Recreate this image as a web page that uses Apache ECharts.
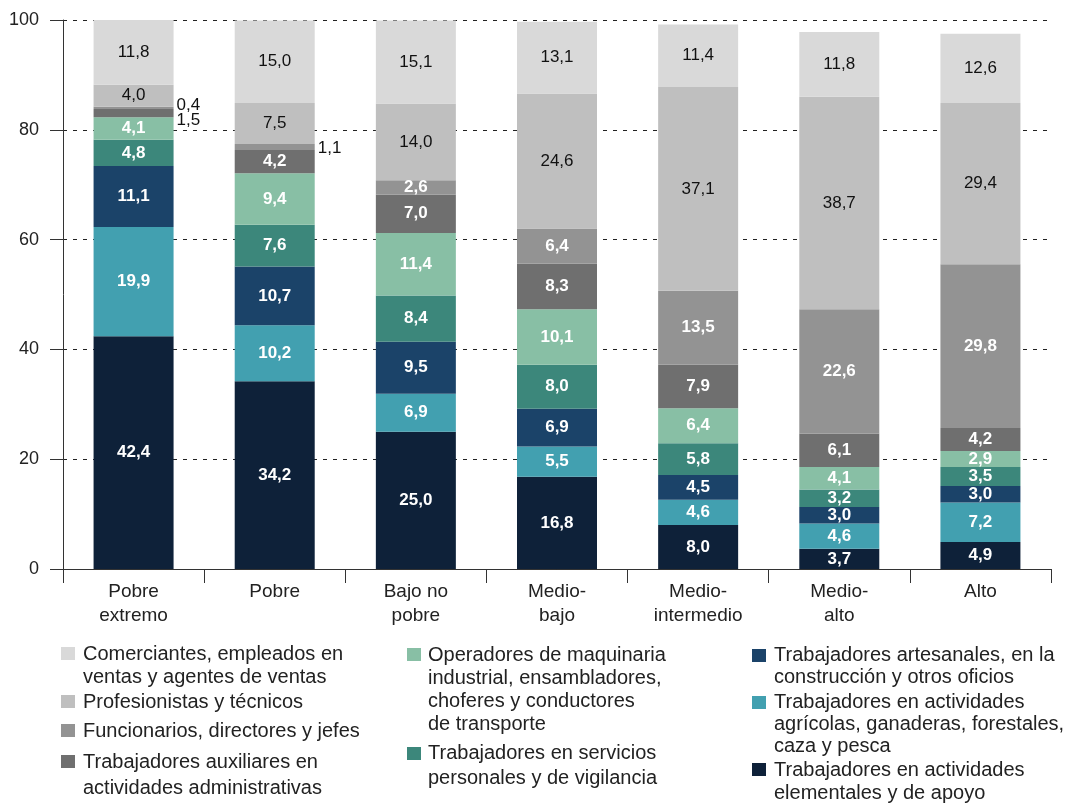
<!DOCTYPE html>
<html><head><meta charset="utf-8">
<script src="https://cdn.jsdelivr.net/npm/echarts@6/dist/echarts.min.js"></script>
<style>html,body{margin:0;padding:0;background:#fff}#c{width:1068px;height:803px}</style>
</head><body><div id="c"></div>
<script>
// ---- DATA ----
var categories = ['Pobre\nextremo', 'Pobre', 'Bajo no\npobre', 'Medio-\nbajo', 'Medio-\nintermedio', 'Medio-\nalto', 'Alto'];
var yTicks = [0, 20, 40, 60, 80, 100];
// series from bottom of stack to top
var seriesNames = [
  'Trabajadores en actividades\nelementales y de apoyo',
  'Trabajadores en actividades\nagrícolas, ganaderas, forestales,\ncaza y pesca',
  'Trabajadores artesanales, en la\nconstrucción y otros oficios',
  'Trabajadores en servicios\npersonales y de vigilancia',
  'Operadores de maquinaria\nindustrial, ensambladores,\nchoferes y conductores\nde transporte',
  'Trabajadores auxiliares en\nactividades administrativas',
  'Funcionarios, directores y jefes',
  'Profesionistas y técnicos',
  'Comerciantes, empleados en\nventas y agentes de ventas'
];
var elementales   = [42.4, 34.2, 25.0, 16.8, 8.0, 3.7, 4.9];
var agricolas     = [19.9, 10.2, 6.9, 5.5, 4.6, 4.6, 7.2];
var artesanales   = [11.1, 10.7, 9.5, 6.9, 4.5, 3.0, 3.0];
var servicios     = [4.8, 7.6, 8.4, 8.0, 5.8, 3.2, 3.5];
var operadores    = [4.1, 9.4, 11.4, 10.1, 6.4, 4.1, 2.9];
var auxiliares    = [1.5, 4.2, 7.0, 8.3, 7.9, 6.1, 4.2];
var funcionarios  = [0.4, 1.1, 2.6, 6.4, 13.5, 22.6, 29.8];
var profesionistas= [4.0, 7.5, 14.0, 24.6, 37.1, 38.7, 29.4];
var comerciantes  = [11.8, 15.0, 15.1, 13.1, 11.4, 11.8, 12.6];
var seriesValues = [elementales, agricolas, artesanales, servicios, operadores, auxiliares, funcionarios, profesionistas, comerciantes];

// ---- STYLE ----
var colors = ['#0e2139', '#42a0b0', '#1b4369', '#3c877b', '#88bfa5', '#6f6f6f', '#939393', '#bfbfbf', '#d9d9d9'];
var darkLabel = [true, true, true, true, true, true, true, false, false];
// vertical offsets for small outside labels, key "series-category"
var outsideOffsets = {'6-0': -3, '5-0': 7, '6-1': 1};

function fmt(v) { return v.toFixed(1).replace('.', ','); }

var series = seriesValues.map(function (vals, si) {
  return {
    name: seriesNames[si],
    type: 'bar',
    stack: 'total',
    barWidth: 80,
    itemStyle: { color: colors[si] },
    label: {
      show: true,
      position: 'inside',
      formatter: function (p) { return fmt(p.value); },
      color: darkLabel[si] ? '#ffffff' : '#111111',
      fontWeight: darkLabel[si] ? 'bold' : 'normal',
      fontSize: 17,
      fontFamily: 'Liberation Sans, Arial, sans-serif'
    },
    data: vals.map(function (v, ci) {
      if (v < 2) {
        var dy = outsideOffsets[si + '-' + ci] || 0;
        return {
          value: v,
          label: {
            position: 'right', distance: 3, offset: [0, dy],
            color: '#111111', fontWeight: 'normal', fontSize: 17
          }
        };
      }
      return v;
    })
  };
});

// legend layout : [seriesIndex, squareX, squareY, textX, firstLineCenterY, lineHeight]
var legendLayout = [
  [8, 61, 647, 83, 654, 23],
  [7, 61, 695, 83, 702, 23],
  [6, 61, 724, 83, 731, 23],
  [5, 61, 755, 83, 762, 26],
  [4, 407, 648, 428, 655, 23.2],
  [3, 407, 747, 428, 753, 25],
  [2, 752, 649, 774, 655, 22.5],
  [1, 752, 696, 774, 702, 22],
  [0, 752, 763, 774, 770, 23]
];
var graphics = [];
legendLayout.forEach(function (L) {
  graphics.push({ type: 'rect', left: L[1], top: L[2], shape: { width: 14, height: 13 }, style: { fill: colors[L[0]] } });
  graphics.push({
    type: 'text', left: L[3], top: L[4] - L[5] / 2,
    style: { text: seriesNames[L[0]], font: '20px "Liberation Sans", Arial, sans-serif', fill: '#222', lineHeight: L[5] }
  });
});

var chart = echarts.init(document.getElementById('c'));
chart.setOption({
  animation: false,
  backgroundColor: '#fff',
  grid: { left: 63, right: 17, top: 20, bottom: 234, containLabel: false },
  xAxis: {
    type: 'category',
    data: categories,
    axisLine: { show: true, lineStyle: { color: '#333', width: 1 } },
    axisTick: { show: true, length: 14, lineStyle: { color: '#333' } },
    axisLabel: { margin: 11, fontSize: 19, lineHeight: 24, color: '#222', fontFamily: 'Liberation Sans, Arial, sans-serif', interval: 0 }
  },
  yAxis: {
    type: 'value', min: yTicks[0], max: yTicks[yTicks.length - 1], interval: 20,
    axisLine: { show: true, lineStyle: { color: '#333', width: 1 } },
    axisTick: { show: true, length: 13, lineStyle: { color: '#333' } },
    axisLabel: { margin: 24, fontSize: 18, color: '#222', fontFamily: 'Liberation Sans, Arial, sans-serif' },
    splitLine: { show: true, lineStyle: { color: '#222', type: [4, 6], width: 1 } }
  },
  series: series,
  graphic: graphics
});
</script></body></html>
